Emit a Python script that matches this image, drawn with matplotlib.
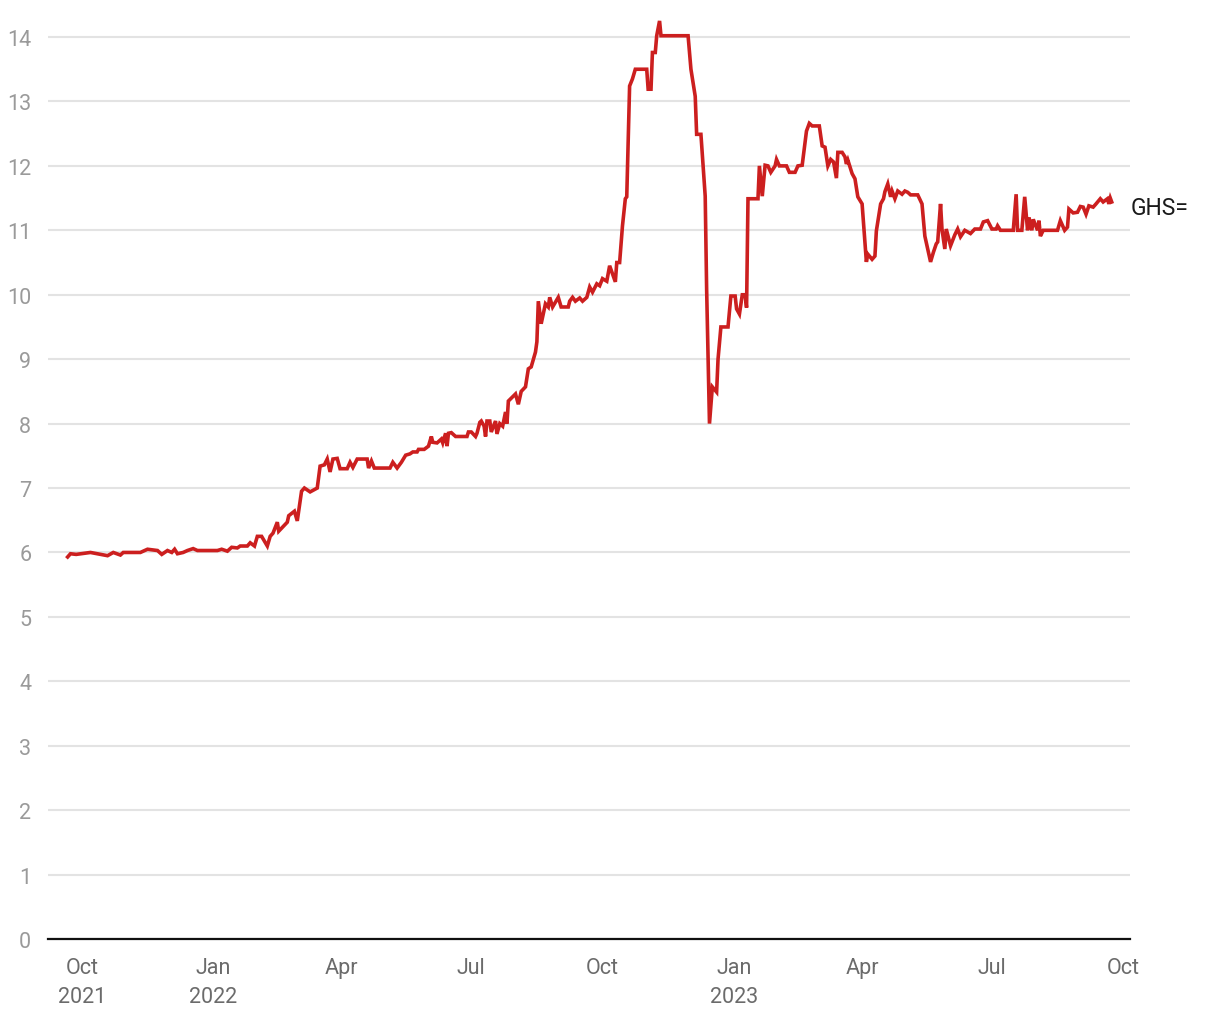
import numpy as np
import matplotlib
matplotlib.use("Agg")
import matplotlib.pyplot as plt
import matplotlib.dates as mdates
import pandas as pd

plt.rcParams['font.family'] = ['Roboto', 'DejaVu Sans']

## GHS= rate
dates = [
    "2021-09-21", "2021-09-23", "2021-09-27", "2021-10-07", "2021-10-19", "2021-10-23",
    "2021-10-28", "2021-10-30", "2021-11-11", "2021-11-16", "2021-11-23", "2021-11-26",
    "2021-11-30", "2021-12-03", "2021-12-05", "2021-12-07", "2021-12-11", "2021-12-14",
    "2021-12-18", "2021-12-21", "2022-01-04", "2022-01-07", "2022-01-11", "2022-01-14",
    "2022-01-18", "2022-01-20", "2022-01-25", "2022-01-27", "2022-01-30", "2022-02-01",
    "2022-02-04", "2022-02-08", "2022-02-10", "2022-02-12", "2022-02-15", "2022-02-16",
    "2022-02-22", "2022-02-23", "2022-02-27", "2022-03-01", "2022-03-04", "2022-03-06",
    "2022-03-10", "2022-03-15", "2022-03-17", "2022-03-20", "2022-03-22", "2022-03-24",
    "2022-03-26", "2022-03-29", "2022-03-31", "2022-04-05", "2022-04-07", "2022-04-09",
    "2022-04-12", "2022-04-19", "2022-04-20", "2022-04-22", "2022-04-24", "2022-05-05",
    "2022-05-07", "2022-05-10", "2022-05-13", "2022-05-16", "2022-05-19", "2022-05-21",
    "2022-05-24", "2022-05-25", "2022-05-29", "2022-06-01", "2022-06-03", "2022-06-04",
    "2022-06-07", "2022-06-10", "2022-06-11", "2022-06-13", "2022-06-14", "2022-06-15",
    "2022-06-17", "2022-06-20", "2022-06-28", "2022-06-29", "2022-07-01", "2022-07-04",
    "2022-07-05", "2022-07-07", "2022-07-08", "2022-07-10", "2022-07-11", "2022-07-12",
    "2022-07-14", "2022-07-15", "2022-07-18", "2022-07-19", "2022-07-21", "2022-07-23",
    "2022-07-25", "2022-07-26", "2022-07-27", "2022-08-01", "2022-08-03", "2022-08-05",
    "2022-08-08", "2022-08-10", "2022-08-12", "2022-08-15", "2022-08-16", "2022-08-17",
    "2022-08-19", "2022-08-22", "2022-08-24", "2022-08-25", "2022-08-27", "2022-08-31",
    "2022-09-02", "2022-09-07", "2022-09-08", "2022-09-10", "2022-09-12", "2022-09-15",
    "2022-09-17", "2022-09-20", "2022-09-22", "2022-09-24", "2022-09-27", "2022-09-29",
    "2022-10-01", "2022-10-04", "2022-10-06", "2022-10-10", "2022-10-11", "2022-10-13",
    "2022-10-15", "2022-10-17", "2022-10-18", "2022-10-19", "2022-10-20", "2022-10-22",
    "2022-10-24", "2022-11-01", "2022-11-02", "2022-11-04", "2022-11-05", "2022-11-07",
    "2022-11-08", "2022-11-10", "2022-11-11", "2022-11-30", "2022-12-02", "2022-12-05",
    "2022-12-06", "2022-12-09", "2022-12-12", "2022-12-13", "2022-12-15", "2022-12-17",
    "2022-12-20", "2022-12-21", "2022-12-23", "2022-12-28", "2022-12-30", "2023-01-02",
    "2023-01-03", "2023-01-05", "2023-01-07", "2023-01-09", "2023-01-10", "2023-01-11",
    "2023-01-18", "2023-01-19", "2023-01-21", "2023-01-23", "2023-01-25", "2023-01-27",
    "2023-01-30", "2023-01-31", "2023-02-02", "2023-02-07", "2023-02-09", "2023-02-13",
    "2023-02-15", "2023-02-18", "2023-02-21", "2023-02-23", "2023-02-25", "2023-03-02",
    "2023-03-04", "2023-03-06", "2023-03-08", "2023-03-10", "2023-03-12", "2023-03-14",
    "2023-03-15", "2023-03-18", "2023-03-20", "2023-03-21", "2023-03-22", "2023-03-25",
    "2023-03-27", "2023-03-29", "2023-04-01", "2023-04-04", "2023-04-05", "2023-04-08",
    "2023-04-10", "2023-04-11", "2023-04-14", "2023-04-16", "2023-04-17", "2023-04-19",
    "2023-04-21", "2023-04-22", "2023-04-24", "2023-04-26", "2023-04-29", "2023-05-01",
    "2023-05-03", "2023-05-05", "2023-05-10", "2023-05-13", "2023-05-15", "2023-05-19",
    "2023-05-21", "2023-05-23", "2023-05-24", "2023-05-26", "2023-05-27", "2023-05-29",
    "2023-05-30", "2023-06-02", "2023-06-05", "2023-06-07", "2023-06-09", "2023-06-12",
    "2023-06-16", "2023-06-19", "2023-06-23", "2023-06-25", "2023-06-28", "2023-07-01",
    "2023-07-04", "2023-07-05", "2023-07-07", "2023-07-16", "2023-07-18", "2023-07-19",
    "2023-07-22", "2023-07-24", "2023-07-26", "2023-07-27", "2023-07-29", "2023-07-30",
    "2023-08-02", "2023-08-03", "2023-08-04", "2023-08-06", "2023-08-16", "2023-08-18",
    "2023-08-21", "2023-08-23", "2023-08-24", "2023-08-27", "2023-08-30", "2023-09-01",
    "2023-09-03", "2023-09-05", "2023-09-07", "2023-09-10", "2023-09-12", "2023-09-15",
    "2023-09-17", "2023-09-20", "2023-09-21", "2023-09-22", "2023-09-23",
]
rate = [
    5.93, 5.98, 5.97, 6.00, 5.95, 6.00,
    5.96, 6.00, 6.00, 6.05, 6.03, 5.97,
    6.03, 6.00, 6.05, 5.98, 6.00, 6.03,
    6.06, 6.03, 6.03, 6.05, 6.02, 6.08,
    6.07, 6.10, 6.10, 6.15, 6.10, 6.25,
    6.25, 6.10, 6.25, 6.30, 6.47, 6.33,
    6.47, 6.57, 6.64, 6.49, 6.95, 7.00,
    6.94, 7.00, 7.34, 7.36, 7.45, 7.25,
    7.45, 7.46, 7.30, 7.30, 7.40, 7.32,
    7.45, 7.45, 7.31, 7.42, 7.31, 7.31,
    7.40, 7.31, 7.40, 7.51, 7.53, 7.56,
    7.56, 7.60, 7.60, 7.65, 7.80, 7.71,
    7.70, 7.76, 7.70, 7.85, 7.65, 7.85,
    7.86, 7.80, 7.80, 7.87, 7.87, 7.80,
    7.85, 8.02, 8.04, 7.96, 7.80, 8.04,
    8.04, 7.87, 8.04, 7.84, 8.00, 7.96,
    8.18, 8.00, 8.35, 8.46, 8.30, 8.50,
    8.57, 8.85, 8.88, 9.11, 9.27, 9.90,
    9.55, 9.86, 9.81, 9.96, 9.81, 9.96,
    9.81, 9.81, 9.90, 9.96, 9.90, 9.95,
    9.90, 9.96, 10.12, 10.04, 10.17, 10.14,
    10.25, 10.21, 10.45, 10.20, 10.50, 10.50,
    11.07, 11.49, 11.52, 12.37, 13.24, 13.35,
    13.50, 13.50, 13.19, 13.19, 13.76, 13.76,
    14.02, 14.25, 14.02, 14.02, 13.50, 13.08,
    12.49, 12.49, 11.53, 10.09, 8.00, 8.57,
    8.49, 9.00, 9.50, 9.50, 9.98, 9.98,
    9.78, 9.70, 10.00, 10.00, 9.80, 11.49,
    11.49, 12.00, 11.53, 12.01, 12.00, 11.90,
    12.00, 12.10, 12.00, 12.00, 11.90, 11.90,
    12.00, 12.01, 12.54, 12.66, 12.62, 12.62,
    12.31, 12.29, 12.00, 12.10, 12.06, 11.81,
    12.21, 12.21, 12.14, 12.03, 12.09, 11.88,
    11.80, 11.52, 11.41, 10.51, 10.63, 10.55,
    10.60, 10.99, 11.41, 11.49, 11.60, 11.72,
    11.52, 11.61, 11.49, 11.61, 11.56, 11.61,
    11.59, 11.55, 11.55, 11.41, 10.91, 10.51,
    10.66, 10.79, 10.82, 11.41, 11.02, 10.71,
    11.02, 10.76, 10.93, 11.02, 10.90, 11.00,
    10.95, 11.02, 11.02, 11.13, 11.15, 11.02,
    11.02, 11.07, 11.00, 11.00, 11.56, 11.00,
    11.00, 11.52, 11.00, 11.20, 11.00, 11.17,
    11.00, 11.15, 10.91, 11.00, 11.00, 11.15,
    11.00, 11.05, 11.33, 11.27, 11.28, 11.37,
    11.36, 11.25, 11.38, 11.36, 11.41, 11.49,
    11.44, 11.49, 11.41, 11.50, 11.44,
]
series_name = "GHS="

tick_dates = ["2021-10-01", "2022-01-01", "2022-04-01", "2022-07-01", "2022-10-01",
              "2023-01-01", "2023-04-01", "2023-07-01", "2023-10-01"]
tick_labels = ["Oct\n2021", "Jan\n2022", "Apr", "Jul", "Oct", "Jan\n2023", "Apr", "Jul", "Oct"]
y_ticks = list(range(0, 15))

x = pd.to_datetime(dates)

fig = plt.figure(figsize=(12.2, 10.2), dpi=100)
ax = fig.add_axes([0.0393, 0.0784, 0.8869, 0.9159])

ax.plot(x, rate, color="#cc1f1f", linewidth=2.6, solid_joinstyle="miter", zorder=3)

# label at the line end
ax.annotate(series_name, xy=(x[-1], rate[-1]), xytext=(13.5, -4), textcoords="offset points",
            va="center", ha="left", fontsize=16.5, color="#1a1a1a", annotation_clip=False)

ax.set_ylim(0, 14.5)
ax.set_xlim(mdates.date2num(pd.Timestamp("2021-10-01")) - 23.8,
            mdates.date2num(pd.Timestamp("2021-10-01")) + 734.8)

ax.set_yticks(y_ticks)
ax.set_yticklabels([str(t) for t in y_ticks])
ax.set_xticks(pd.to_datetime(tick_dates))
ax.set_xticklabels(tick_labels, linespacing=1.5)

ax.grid(axis="y", color="#e3e3e3", linewidth=1.5)
ax.set_axisbelow(True)
for s in ["top", "right", "left"]:
    ax.spines[s].set_visible(False)
ax.spines["bottom"].set_color("#111111")
ax.spines["bottom"].set_linewidth(1.6)
ax.spines["bottom"].set_zorder(4)

ax.tick_params(axis="y", length=0, pad=12, labelsize=15.5, labelcolor="#9a9a9a")
ax.tick_params(axis="x", length=0, pad=13, labelsize=15.5, labelcolor="#6b6b6b")

plt.savefig("out.png", dpi=100)
